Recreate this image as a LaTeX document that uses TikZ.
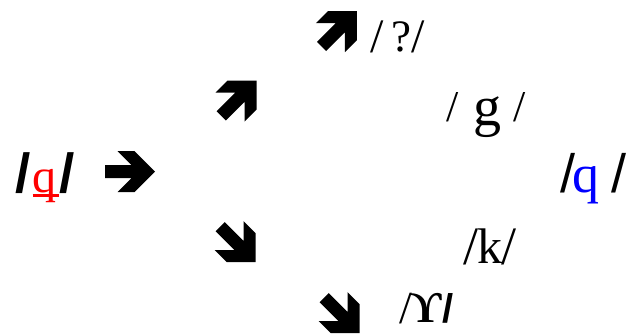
\documentclass[tikz,border=0pt]{standalone}
\usepackage{fontspec}
\setmainfont{Liberation Serif}
\setsansfont{Liberation Sans}
\tikzset{
  glyph/.style={anchor=base, inner sep=0pt, outer sep=0pt},
  rmsize/.style={glyph, font=\fontsize{#1}{#1}\selectfont\rmfamily},
  rmbold/.style={glyph, font=\fontsize{#1}{#1}\selectfont\rmfamily\bfseries},
  sfsize/.style={glyph, font=\fontsize{#1}{#1}\selectfont\sffamily},
  sfbold/.style={glyph, font=\fontsize{#1}{#1}\selectfont\sffamily\bfseries},
  % heavy wide-headed arrow, shaft starts at the origin, tip at (50,0)
  fatarrow/.pic={
    \fill[black] (0,-6.5) -- (26.5,-6.5) -- (12.5,-20.5) -- (29.5,-20.5) -- (50,0)
      -- (29.5,20.5) -- (12.5,20.5) -- (26.5,6.5) -- (0,6.5) -- cycle;
  }
}
\begin{document}
\begin{tikzpicture}[x=1pt,y=-1pt]
\useasboundingbox (0,0) rectangle (628,333);

% source phoneme
\node[sfbold=55] (ls1) at (23,192) {/};
\node[rmsize=48, text=red] (lq) at (44.5,192) {q};
\node[sfbold=55] (ls2) at (67.5,192) {/};
\draw[red, line width=2.3pt] (lq.base west) ++(0,3.5) coordinate (ul1) -- ++(26,0) coordinate (ul2);

% arrows
\pic at (105,171.5) {fatarrow};
\pic[rotate=45] at (221.2,115.9) {fatarrow};
\pic[rotate=-45] at (220.2,226.7) {fatarrow};
\pic[rotate=45] at (321.6,46.4) {fatarrow};
\pic[rotate=-45] at (324.2,297.7) {fatarrow};

% glottal stop
\node[rmsize=48] (gs1) at (377,52) {/};
\node[rmsize=45] (gq) at (401,51) {?};
\node[rmsize=48] (gs2) at (418,52) {/};

% voiced velar
\node[rmsize=44] (vs1) at (453,121) {/};
\node[rmsize=56] (vg) at (487.5,125) {g};
\node[rmsize=44] (vs2) at (520,121) {/};

% retained uvular
\node[sfsize=54] (rs1) at (568,192) {/};
\node[rmsize=54, text=blue] (rq) at (586,192) {q};
\node[sfsize=54] (rs2) at (618.5,192) {/};

% voiceless velar
\node[rmsize=54] (ks1) at (471,264) {/};
\node[rmsize=50] (kk) at (489.5,263) {k};
\node[rmsize=54] (ks2) at (508.5,264) {/};

% upsilon with hook
\node[rmsize=46] (us1) at (406,323) {/};
\node[rmbold=44] (uu) at (426.5,322) {ϒ};
\node[sfbold=40] (us2) at (448.5,322) {/};
\end{tikzpicture}
\end{document}
